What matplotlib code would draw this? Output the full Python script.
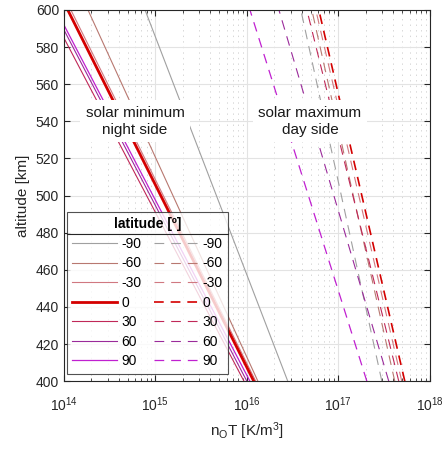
import matplotlib
matplotlib.use('Agg')
import matplotlib.pyplot as plt
from matplotlib.lines import Line2D

plt.rcParams['font.family'] = ['Liberation Sans', 'DejaVu Sans']
plt.rcParams['mathtext.default'] = 'regular'
plt.rcParams['lines.scale_dashes'] = False

# latitude of each profile
latitudes = ['-90', '-60', '-30', '0', '30', '60', '90']
colors = ['#a0a0a0', '#b87870', '#d07880', '#d40000', '#c02858', '#9a2a9a', '#c020d0']
widths = [0.8, 0.8, 0.8, 2.0, 0.8, 0.8, 0.9]
dash_widths = [0.8, 0.8, 0.8, 1.2, 0.8, 0.8, 0.9]

altitude = [400, 600]

# n_O T at 400 km and 600 km, solar minimum / night side
min_400 = [2.8e16, 1.32e16, 1.25e16, 1.19e16, 9.3e15, 1.0e16, 1.08e16]
min_600 = [7.7e14, 1.83e14, 1.19e14, 1.10e14, 6.9e13, 7.7e13, 8.2e13]

# n_O T at 400 km and 600 km, solar maximum / day side
max_400 = [2.99e17, 4.14e17, 4.94e17, 5.33e17, 4.58e17, 3.56e17, 2.05e17]
max_600 = [3.89e16, 5.13e16, 5.67e16, 6.12e16, 4.53e16, 2.24e16, 1.08e16]


def main():
    fig = plt.figure(figsize=(4.44, 4.49), dpi=100)
    ax = fig.add_axes([0.144, 0.151, 0.824, 0.827])

    solid = []
    dashed = []
    for i in range(len(latitudes)):
        l1, = ax.plot([min_400[i], min_600[i]], altitude, color=colors[i], lw=widths[i])
        l2, = ax.plot([max_400[i], max_600[i]], altitude, color=colors[i], lw=dash_widths[i],
                      ls=(0, (7, 5)))
        solid.append(l1)
        dashed.append(l2)

    ax.set_xscale('log')
    ax.set_xlim(1e14, 1e18)
    ax.set_ylim(400, 600)
    ax.set_yticks(range(400, 601, 20))

    ax.grid(True, which='major', color='#e3e3e3', lw=0.8)
    ax.grid(True, which='minor', axis='x', color='#d0d0d0', lw=0.6, ls=(0, (1, 3)))
    ax.set_axisbelow(True)
    ax.tick_params(which='both', direction='in', top=True, right=True,
                   color='#262626', labelcolor='#262626', labelsize=10)
    ax.tick_params(which='major', length=4, width=0.8)
    ax.tick_params(axis='x', which='major', pad=10)
    ax.tick_params(which='minor', length=2, width=0.6)
    for s in ax.spines.values():
        s.set_color('#262626')
        s.set_linewidth(0.8)

    ax.set_xlabel('n$_O$T [K/m$^3$]', fontsize=11, color='#262626', labelpad=5)
    ax.set_ylabel('altitude [km]', fontsize=11, color='#262626', labelpad=4)

    box = dict(facecolor='white', edgecolor='none', pad=4)
    ax.text(6e14, 540, 'solar minimum\nnight side', ha='center', va='center',
            fontsize=11, color='#1a1a1a', bbox=box, zorder=5, linespacing=1.25)
    ax.text(4.9e16, 540, 'solar maximum\nday side', ha='center', va='center',
            fontsize=11, color='#1a1a1a', bbox=box, zorder=5, linespacing=1.25)

    leg = ax.legend(solid + dashed, latitudes + latitudes, ncol=2, loc='lower left',
                    bbox_to_anchor=(0.008, 0.02), borderaxespad=0, fontsize=10,
                    title='latitude [º]', title_fontproperties={'weight': 'bold', 'size': 10},
                    fancybox=False, framealpha=0.8, edgecolor='#262626',
                    handlelength=3.2, handletextpad=0.3, columnspacing=0.9,
                    labelspacing=0.4, borderpad=0.4)
    leg.get_frame().set_linewidth(0.8)
    leg.set_zorder(10)

    # separator under legend title
    fig.canvas.draw()
    bb = leg.get_window_extent()
    tb = leg.get_title().get_window_extent()
    y = tb.y0 - 3
    fig.add_artist(Line2D([bb.x0, bb.x1], [y, y], transform=None, color='#262626',
                          lw=0.8, zorder=11))

    fig.savefig('out.png', dpi=100)


if __name__ == '__main__':
    main()
